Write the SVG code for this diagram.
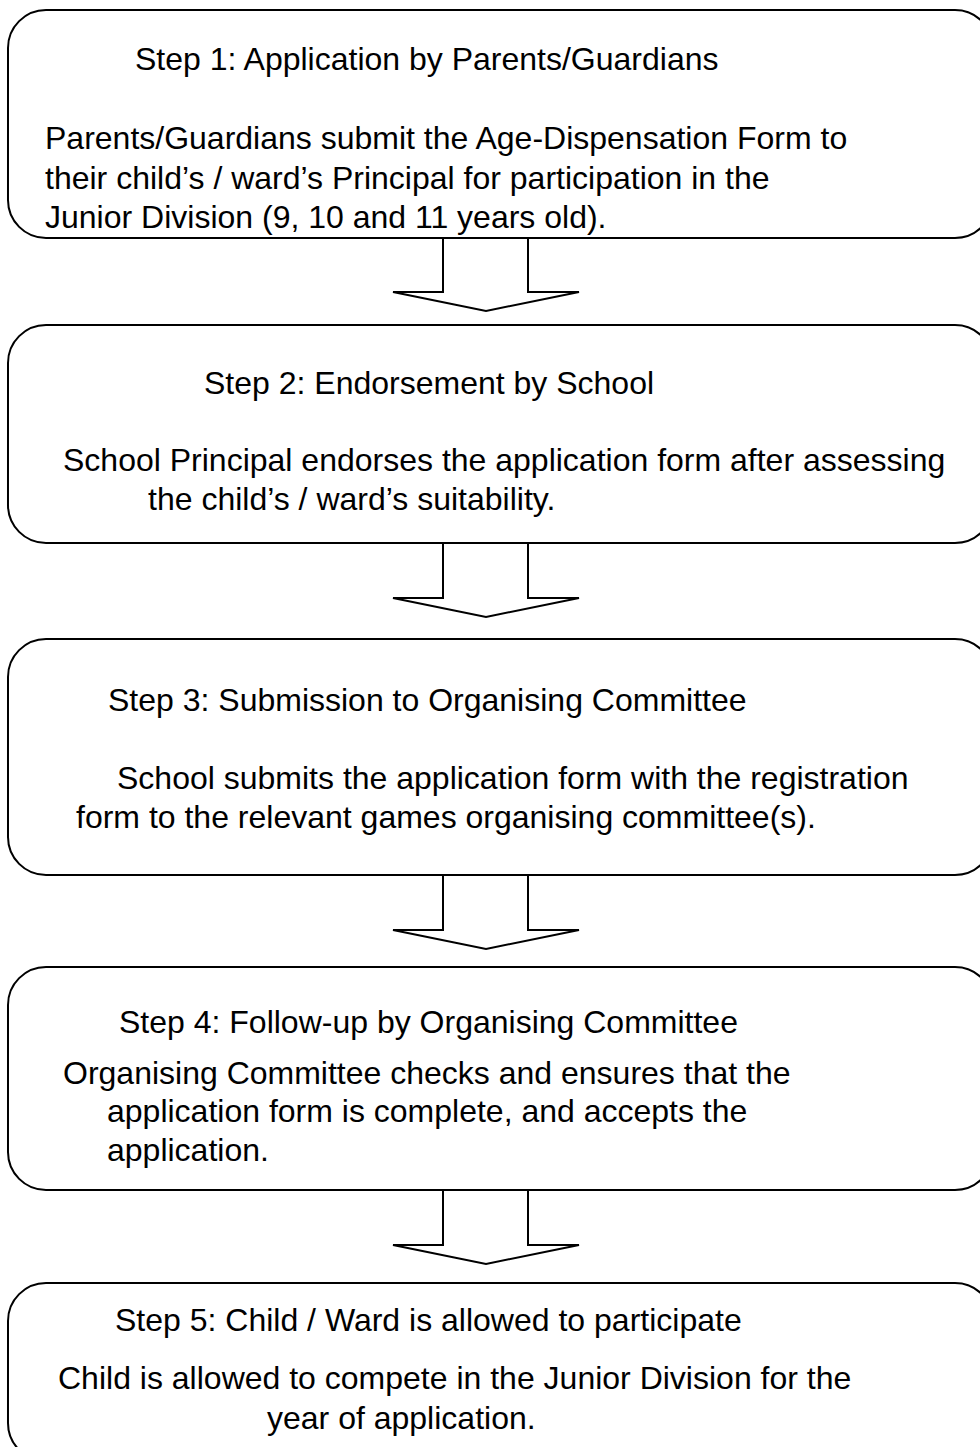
<svg xmlns="http://www.w3.org/2000/svg" width="980" height="1447" viewBox="0 0 980 1447">
<style>
.box{fill:#fff;stroke:#000;stroke-width:2}
.arr{fill:#fff;stroke:#000;stroke-width:2;stroke-linejoin:miter}
text{font-family:"Liberation Sans",Arial,sans-serif;font-size:32px;fill:#000}
</style>
<rect width="980" height="1447" fill="#fff"/>
<g id="step1">
<rect class="box" x="8" y="10" width="985" height="228" rx="38" ry="38"/>
<text x="135" y="70">Step 1: Application by Parents/Guardians</text>
<text x="45" y="149">Parents/Guardians submit the Age-Dispensation Form to</text>
<text x="45" y="188.5">their child’s / ward’s Principal for participation in the</text>
<text x="45" y="228">Junior Division (9, 10 and 11 years old).</text>
</g>
<g id="step2">
<rect class="box" x="8" y="325" width="985" height="218" rx="38" ry="38"/>
<text x="204" y="394">Step 2: Endorsement by School</text>
<text x="63" y="471">School Principal endorses the application form after assessing</text>
<text x="148" y="510">the child’s / ward’s suitability.</text>
</g>
<g id="step3">
<rect class="box" x="8" y="639" width="985" height="236" rx="38" ry="38"/>
<text x="108" y="711">Step 3: Submission to Organising Committee</text>
<text x="117" y="789">School submits the application form with the registration</text>
<text x="76" y="828">form to the relevant games organising committee(s).</text>
</g>
<g id="step4">
<rect class="box" x="8" y="967" width="985" height="223" rx="38" ry="38"/>
<text x="119" y="1033">Step 4: Follow-up by Organising Committee</text>
<text x="63" y="1084">Organising Committee checks and ensures that the</text>
<text x="107" y="1122">application form is complete, and accepts the</text>
<text x="107" y="1161">application.</text>
</g>
<g id="step5">
<rect class="box" x="8" y="1283" width="985" height="178" rx="38" ry="38"/>
<text x="115" y="1331">Step 5: Child / Ward is allowed to participate</text>
<text x="58" y="1389">Child is allowed to compete in the Junior Division for the</text>
<text x="267" y="1429">year of application.</text>
</g>
<g id="connectors">
<polygon class="arr" points="443,238 443,292 393,292 486,311 579,292 528,292 528,238"/>
<polygon class="arr" points="443,543 443,598 393,598 486,617 579,598 528,598 528,543"/>
<polygon class="arr" points="443,875 443,930 393,930 486,949 579,930 528,930 528,875"/>
<polygon class="arr" points="443,1190 443,1245 393,1245 486,1264 579,1245 528,1245 528,1190"/>
</g>
</svg>
